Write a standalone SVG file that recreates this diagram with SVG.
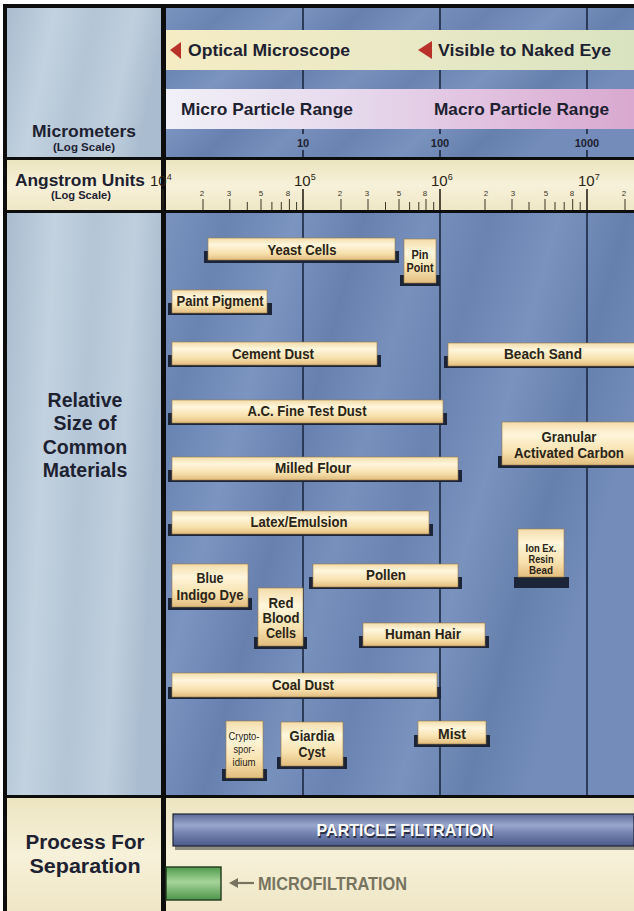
<svg xmlns="http://www.w3.org/2000/svg" width="634" height="911" viewBox="0 0 634 911">
<defs>
<linearGradient id="blueBg" x1="0" y1="0" x2="1" y2="0.35">
<stop offset="0" stop-color="#7a93bf"/>
<stop offset="0.12" stop-color="#6a84b2"/>
<stop offset="0.25" stop-color="#7b94c0"/>
<stop offset="0.38" stop-color="#6780ae"/>
<stop offset="0.5" stop-color="#7890bc"/>
<stop offset="0.62" stop-color="#6a83b1"/>
<stop offset="0.75" stop-color="#7a92be"/>
<stop offset="0.88" stop-color="#6680ad"/>
<stop offset="1" stop-color="#738cb9"/>
</linearGradient>
<linearGradient id="leftBg" x1="0" y1="0" x2="1" y2="0.2">
<stop offset="0" stop-color="#a9bccf"/>
<stop offset="0.3" stop-color="#c3d2df"/>
<stop offset="0.55" stop-color="#b3c5d6"/>
<stop offset="0.8" stop-color="#c0cfdd"/>
<stop offset="1" stop-color="#aabdd0"/>
</linearGradient>
<linearGradient id="creamBg" x1="0" y1="0" x2="0" y2="1">
<stop offset="0" stop-color="#ece4bf"/>
<stop offset="0.5" stop-color="#f7f1da"/>
<stop offset="1" stop-color="#efe6c5"/>
</linearGradient>
<linearGradient id="optBand" x1="0" y1="0" x2="1" y2="0">
<stop offset="0" stop-color="#f5ecc4"/>
<stop offset="0.5" stop-color="#eae9c6"/>
<stop offset="1" stop-color="#d9e3c0"/>
</linearGradient>
<linearGradient id="partBand" x1="0" y1="0" x2="1" y2="0">
<stop offset="0" stop-color="#f1f0f8"/>
<stop offset="0.4" stop-color="#e6d9ec"/>
<stop offset="0.75" stop-color="#e0bcdc"/>
<stop offset="1" stop-color="#d9a8d0"/>
</linearGradient>
<linearGradient id="barG" x1="0" y1="0" x2="0" y2="1">
<stop offset="0" stop-color="#f3dcaa"/>
<stop offset="0.3" stop-color="#fff6dc"/>
<stop offset="0.7" stop-color="#f7e0ad"/>
<stop offset="1" stop-color="#e2bd7e"/>
</linearGradient>
<linearGradient id="pfG" x1="0" y1="0" x2="0" y2="1">
<stop offset="0" stop-color="#5b6a98"/>
<stop offset="0.35" stop-color="#9aa6cc"/>
<stop offset="0.6" stop-color="#7382b0"/>
<stop offset="1" stop-color="#4c5a88"/>
</linearGradient>
<linearGradient id="greenG" x1="0" y1="0" x2="0" y2="1">
<stop offset="0" stop-color="#4f9a4c"/>
<stop offset="0.45" stop-color="#a6d49a"/>
<stop offset="1" stop-color="#4e954a"/>
</linearGradient>
<style>
.sans{font-family:"Liberation Sans",Arial,sans-serif}
.hdr{font-family:"Liberation Sans",Arial,sans-serif;font-weight:bold;fill:#1d2130}
.lbl{font-family:"Liberation Sans",Arial,sans-serif;font-weight:bold;font-size:15px;fill:#2a2417;text-anchor:middle}
.bar{fill:url(#barG);stroke:#9a7a48;stroke-width:0.6}
.sh{fill:#1c2538}
.grid{stroke:#1b2840;stroke-width:1.6}
.tk{stroke:#3a3526;stroke-width:1}
.tkl{font-family:"Liberation Sans",Arial,sans-serif;font-size:8px;fill:#3a3526;text-anchor:middle}
.blk{fill:#0d0d0d}
</style>
</defs>

<!-- backgrounds -->
<rect x="0" y="0" width="634" height="911" fill="#ffffff"/>
<rect x="166" y="8" width="468" height="150" fill="url(#blueBg)"/>
<rect x="7" y="8" width="155" height="150" fill="url(#leftBg)"/>
<rect x="7" y="160" width="627" height="51" fill="url(#creamBg)"/>
<rect x="166" y="212" width="468" height="584" fill="url(#blueBg)"/>
<rect x="7" y="212" width="155" height="584" fill="url(#leftBg)"/>
<rect x="7" y="797" width="627" height="114" fill="url(#creamBg)"/>

<!-- frame lines -->
<g id="frame">
<rect class="blk" x="3" y="4" width="631" height="4"/>
<rect class="blk" x="3" y="4" width="4" height="907"/>
<rect class="blk" x="161" y="4" width="5" height="907"/>
<rect class="blk" x="3" y="157" width="631" height="3"/>
<rect class="blk" x="3" y="210" width="631" height="3"/>
<rect class="blk" x="3" y="795" width="631" height="3"/>
</g>

<!-- grid lines -->
<g id="connectors">
<line class="grid" x1="303" y1="8" x2="303" y2="30"/>
<line class="grid" x1="440" y1="8" x2="440" y2="30"/>
<line class="grid" x1="587" y1="8" x2="587" y2="30"/>
<line class="grid" x1="303" y1="70" x2="303" y2="89"/>
<line class="grid" x1="440" y1="70" x2="440" y2="89"/>
<line class="grid" x1="587" y1="70" x2="587" y2="89"/>
<line class="grid" x1="303" y1="129" x2="303" y2="134"/>
<line class="grid" x1="440" y1="129" x2="440" y2="134"/>
<line class="grid" x1="587" y1="129" x2="587" y2="134"/>
<line class="grid" x1="303" y1="150" x2="303" y2="157"/>
<line class="grid" x1="440" y1="150" x2="440" y2="157"/>
<line class="grid" x1="587" y1="150" x2="587" y2="157"/>
<line class="grid" x1="303" y1="213" x2="303" y2="795"/>
<line class="grid" x1="440" y1="213" x2="440" y2="795"/>
<line class="grid" x1="587" y1="213" x2="587" y2="795"/>
</g>

<!-- header bands -->
<g id="optical-band">
<rect x="166" y="30" width="468" height="40" fill="url(#optBand)"/>
<polygon points="170,50 181,42 181,59" fill="#b8322a"/>
<text class="hdr" x="188" y="56" font-size="16.5" textLength="162" lengthAdjust="spacingAndGlyphs">Optical Microscope</text>
<polygon points="418,50 432,41 432,59" fill="#b8322a"/>
<text class="hdr" x="438" y="56" font-size="16.5" textLength="173" lengthAdjust="spacingAndGlyphs">Visible to Naked Eye</text>
</g>
<g id="particle-band">
<rect x="166" y="89" width="468" height="40" fill="url(#partBand)"/>
<text class="hdr" x="181" y="115" font-size="16.5" textLength="172" lengthAdjust="spacingAndGlyphs">Micro Particle Range</text>
<text class="hdr" x="434" y="115" font-size="16.5" textLength="175" lengthAdjust="spacingAndGlyphs">Macro Particle Range</text>
</g>
<g id="micrometer-scale">
<text class="hdr" x="303" y="147" font-size="11" text-anchor="middle">10</text>
<text class="hdr" x="440" y="147" font-size="11" text-anchor="middle">100</text>
<text class="hdr" x="587" y="147" font-size="11" text-anchor="middle">1000</text>
</g>
<g id="micrometers-label">
<text class="hdr" x="84" y="137" font-size="17" text-anchor="middle" textLength="104" lengthAdjust="spacingAndGlyphs">Micrometers</text>
<text class="hdr" x="84" y="151" font-size="10.5" text-anchor="middle" textLength="62" lengthAdjust="spacingAndGlyphs">(Log Scale)</text>
</g>

<!-- angstrom row -->
<g id="angstrom-label">
<text class="hdr" x="15" y="186" font-size="17" textLength="130" lengthAdjust="spacingAndGlyphs">Angstrom Units</text>
<text class="hdr" x="81" y="199" font-size="10.5" text-anchor="middle" textLength="60" lengthAdjust="spacingAndGlyphs">(Log Scale)</text>
</g>
<g id="angstrom-scale">
<text class="sans" x="150" y="186" font-size="15" fill="#2a2417">10<tspan font-size="9" dy="-6">4</tspan></text>
<text class="sans" x="294" y="186" font-size="15" fill="#2a2417">10<tspan font-size="9" dy="-6">5</tspan></text>
<text class="sans" x="431" y="186" font-size="15" fill="#2a2417">10<tspan font-size="9" dy="-6">6</tspan></text>
<text class="sans" x="578" y="186" font-size="15" fill="#2a2417">10<tspan font-size="9" dy="-6">7</tspan></text>
<g stroke="#2a2417" stroke-width="1.6">
<line x1="163" y1="189" x2="163" y2="210"/>
<line x1="303" y1="189" x2="303" y2="210"/>
<line x1="440" y1="189" x2="440" y2="210"/>
<line x1="587" y1="189" x2="587" y2="210"/>
</g>
<g class="tk">
<line x1="203" y1="199" x2="203" y2="210"/><line x1="229.8" y1="199" x2="229.8" y2="210"/><line x1="247.3" y1="202" x2="247.3" y2="210"/><line x1="261" y1="199" x2="261" y2="210"/><line x1="271.9" y1="202" x2="271.9" y2="210"/><line x1="281.3" y1="202" x2="281.3" y2="210"/><line x1="289.4" y1="199" x2="289.4" y2="210"/><line x1="296.6" y1="202" x2="296.6" y2="210"/>
<line x1="341" y1="199" x2="341" y2="210"/><line x1="368" y1="199" x2="368" y2="210"/><line x1="385.5" y1="202" x2="385.5" y2="210"/><line x1="399" y1="199" x2="399" y2="210"/><line x1="409.6" y1="202" x2="409.6" y2="210"/><line x1="418.8" y1="202" x2="418.8" y2="210"/><line x1="426" y1="199" x2="426" y2="210"/><line x1="433.7" y1="202" x2="433.7" y2="210"/>
<line x1="485" y1="199" x2="485" y2="210"/><line x1="512" y1="199" x2="512" y2="210"/><line x1="529" y1="202" x2="529" y2="210"/><line x1="545" y1="199" x2="545" y2="210"/><line x1="555" y1="202" x2="555" y2="210"/><line x1="564.2" y1="202" x2="564.2" y2="210"/><line x1="572.7" y1="199" x2="572.7" y2="210"/><line x1="580.2" y1="202" x2="580.2" y2="210"/>
<line x1="625" y1="199" x2="625" y2="210"/>
</g>
<text class="tkl" x="202" y="196">2</text><text class="tkl" x="229" y="196">3</text><text class="tkl" x="261" y="196">5</text><text class="tkl" x="288" y="196">8</text>
<text class="tkl" x="340" y="196">2</text><text class="tkl" x="367" y="196">3</text><text class="tkl" x="399" y="196">5</text><text class="tkl" x="425" y="196">8</text>
<text class="tkl" x="486" y="196">2</text><text class="tkl" x="513" y="196">3</text><text class="tkl" x="546" y="196">5</text><text class="tkl" x="572" y="196">8</text>
<text class="tkl" x="624" y="196">2</text>
</g>

<!-- left labels -->
<g id="relative-size-label">
<text class="hdr" font-size="19.5" text-anchor="middle"><tspan x="85" y="407">Relative</tspan><tspan x="85" y="430">Size of</tspan><tspan x="85" y="454">Common</tspan><tspan x="85" y="477">Materials</tspan></text>
</g>
<g id="process-label">
<text class="hdr" font-size="20" text-anchor="middle"><tspan x="85" y="849" textLength="119" lengthAdjust="spacingAndGlyphs">Process For</tspan><tspan x="85" y="873" textLength="111" lengthAdjust="spacingAndGlyphs">Separation</tspan></text>
</g>

<!-- material bars -->
<g id="yeast-cells"><rect class="sh" x="204" y="251" width="195" height="12"/><rect class="bar" x="208" y="238" width="187" height="22"/><text class="lbl" x="302" y="255" textLength="69" lengthAdjust="spacingAndGlyphs">Yeast Cells</text></g>
<g id="pin-point"><rect class="sh" x="400" y="275" width="40" height="11"/><rect class="bar" x="404" y="239" width="32" height="44"/><text class="lbl" style="font-size:12px"><tspan x="420" y="259" textLength="17" lengthAdjust="spacingAndGlyphs">Pin</tspan><tspan x="420" y="272" textLength="27" lengthAdjust="spacingAndGlyphs">Point</tspan></text></g>
<g id="paint-pigment"><rect class="sh" x="168" y="303" width="104" height="12"/><rect class="bar" x="172" y="290" width="95" height="23"/><text class="lbl" x="220" y="306" textLength="87" lengthAdjust="spacingAndGlyphs">Paint Pigment</text></g>
<g id="cement-dust"><rect class="sh" x="168" y="355" width="213" height="12"/><rect class="bar" x="172" y="342" width="205" height="23"/><text class="lbl" x="273" y="359" textLength="82" lengthAdjust="spacingAndGlyphs">Cement Dust</text></g>
<g id="beach-sand"><rect class="sh" x="444" y="356" width="194" height="12"/><rect class="bar" x="448" y="343" width="190" height="23"/><text class="lbl" x="543" y="359" textLength="78" lengthAdjust="spacingAndGlyphs">Beach Sand</text></g>
<g id="ac-fine-test-dust"><rect class="sh" x="168" y="413" width="279" height="12"/><rect class="bar" x="172" y="400" width="271" height="23"/><text class="lbl" x="307" y="416" textLength="119" lengthAdjust="spacingAndGlyphs">A.C. Fine Test Dust</text></g>
<g id="granular-activated-carbon"><rect class="sh" x="498" y="456" width="140" height="12"/><rect class="bar" x="502" y="422" width="136" height="43"/><text class="lbl"><tspan x="569" y="442" textLength="55" lengthAdjust="spacingAndGlyphs">Granular</tspan><tspan x="569" y="458" textLength="110" lengthAdjust="spacingAndGlyphs">Activated Carbon</tspan></text></g>
<g id="milled-flour"><rect class="sh" x="168" y="470" width="294" height="12"/><rect class="bar" x="172" y="457" width="286" height="23"/><text class="lbl" x="313" y="473" textLength="76" lengthAdjust="spacingAndGlyphs">Milled Flour</text></g>
<g id="latex-emulsion"><rect class="sh" x="168" y="524" width="265" height="12"/><rect class="bar" x="172" y="511" width="257" height="23"/><text class="lbl" x="299" y="527" textLength="97" lengthAdjust="spacingAndGlyphs">Latex/Emulsion</text></g>
<g id="ion-ex-resin-bead"><rect class="sh" x="514" y="577" width="55" height="11"/><rect class="bar" x="518" y="529" width="46" height="48"/><text class="lbl" style="font-size:10.5px"><tspan x="541" y="552" textLength="31" lengthAdjust="spacingAndGlyphs">Ion Ex.</tspan><tspan x="541" y="563" textLength="25" lengthAdjust="spacingAndGlyphs">Resin</tspan><tspan x="541" y="574" textLength="24" lengthAdjust="spacingAndGlyphs">Bead</tspan></text></g>
<g id="blue-indigo-dye"><rect class="sh" x="168" y="598" width="84" height="12"/><rect class="bar" x="172" y="564" width="76" height="43"/><text class="lbl"><tspan x="210" y="583" textLength="27" lengthAdjust="spacingAndGlyphs">Blue</tspan><tspan x="210" y="600" textLength="67" lengthAdjust="spacingAndGlyphs">Indigo Dye</tspan></text></g>
<g id="pollen"><rect class="sh" x="309" y="577" width="153" height="12"/><rect class="bar" x="313" y="564" width="145" height="23"/><text class="lbl" x="386" y="580" textLength="40" lengthAdjust="spacingAndGlyphs">Pollen</text></g>
<g id="red-blood-cells"><rect class="sh" x="254" y="637" width="53" height="12"/><rect class="bar" x="258" y="588" width="45" height="58"/><text class="lbl" style="font-size:14px"><tspan x="281" y="608" textLength="25" lengthAdjust="spacingAndGlyphs">Red</tspan><tspan x="281" y="623" textLength="37" lengthAdjust="spacingAndGlyphs">Blood</tspan><tspan x="281" y="638" textLength="30" lengthAdjust="spacingAndGlyphs">Cells</tspan></text></g>
<g id="human-hair"><rect class="sh" x="359" y="636" width="130" height="12"/><rect class="bar" x="363" y="623" width="122" height="23"/><text class="lbl" x="423" y="639" textLength="76" lengthAdjust="spacingAndGlyphs">Human Hair</text></g>
<g id="coal-dust"><rect class="sh" x="168" y="687" width="273" height="12"/><rect class="bar" x="172" y="673" width="265" height="24"/><text class="lbl" x="303" y="690" textLength="62" lengthAdjust="spacingAndGlyphs">Coal Dust</text></g>
<g id="cryptosporidium"><rect class="sh" x="222" y="769" width="45" height="12"/><rect class="bar" x="226" y="721" width="37" height="57"/><text class="lbl" style="font-size:10px;font-weight:normal"><tspan x="244" y="740" textLength="31" lengthAdjust="spacingAndGlyphs">Crypto-</tspan><tspan x="244" y="753" textLength="21" lengthAdjust="spacingAndGlyphs">spor-</tspan><tspan x="244" y="766" textLength="23" lengthAdjust="spacingAndGlyphs">idium</tspan></text></g>
<g id="giardia-cyst"><rect class="sh" x="277" y="757" width="70" height="12"/><rect class="bar" x="281" y="722" width="62" height="44"/><text class="lbl" style="font-size:14.5px"><tspan x="312" y="741" textLength="45" lengthAdjust="spacingAndGlyphs">Giardia</tspan><tspan x="312" y="757" textLength="27" lengthAdjust="spacingAndGlyphs">Cyst</tspan></text></g>
<g id="mist"><rect class="sh" x="414" y="735" width="76" height="12"/><rect class="bar" x="418" y="721" width="68" height="23"/><text class="lbl" x="452" y="739" textLength="28" lengthAdjust="spacingAndGlyphs">Mist</text></g>

<!-- process bars -->
<g id="particle-filtration">
<rect x="175" y="817" width="459" height="33" fill="#3a3a38" opacity="0.55"/>
<rect x="173" y="814" width="461" height="32" fill="url(#pfG)" stroke="#1d2338" stroke-width="1.2"/>
<text class="sans" x="406" y="837.5" font-size="17" font-weight="bold" text-anchor="middle" fill="#2a2f45" textLength="177" lengthAdjust="spacingAndGlyphs">PARTICLE FILTRATION</text>
<text class="sans" x="405" y="836" font-size="17" font-weight="bold" text-anchor="middle" fill="#ffffff" textLength="177" lengthAdjust="spacingAndGlyphs">PARTICLE FILTRATION</text>
</g>
<g id="microfiltration">
<rect x="166" y="867" width="55" height="33" fill="url(#greenG)" stroke="#203a1c" stroke-width="1.4"/>
<line x1="236" y1="883" x2="254" y2="883" stroke="#77735f" stroke-width="2.2"/>
<polygon points="229,883 238,878 238,888" fill="#77735f"/>
<text class="sans" x="258" y="890" font-size="18" font-weight="bold" fill="#77735f" textLength="149" lengthAdjust="spacingAndGlyphs">MICROFILTRATION</text>
</g>
</svg>
